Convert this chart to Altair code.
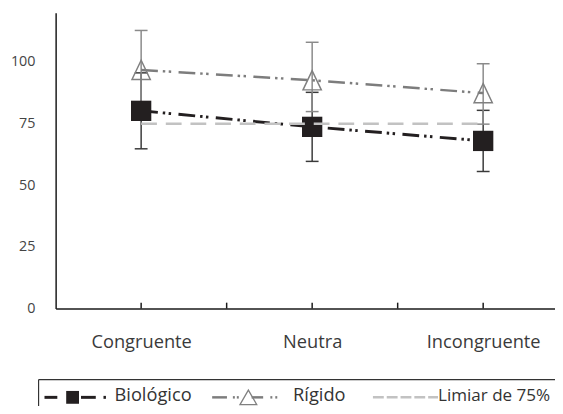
import json
import altair as alt
import pandas as pd

# ---- data ----
categories = ["Congruente", "Neutra", "Incongruente"]
series = ["Biológico", "Rígido", "Limiar de 75%"]
bio_mean = [80.2, 73.7, 68.0]
bio_low = [64.8, 59.7, 55.6]
bio_high = [95.6, 87.7, 80.4]
rig_mean = [96.8, 92.6, 87.4]
rig_low = [80.6, 79.9, 74.8]
rig_high = [112.8, 108.0, 99.3]
threshold = 75
y_ticks = [0, 25, 50, 75, 100]
x_tick_marks = [0, 0.5, 1, 1.5, 2]

bio = pd.DataFrame({"idx": list(range(len(categories))), "cat": categories,
                    "mean": bio_mean, "lo": bio_low, "hi": bio_high})
rig = pd.DataFrame({"idx": list(range(len(categories))), "cat": categories,
                    "mean": rig_mean, "lo": rig_low, "hi": rig_high})
thr = pd.DataFrame({"idx": [0, len(categories) - 1], "v": [threshold, threshold]})
ticks = pd.DataFrame({"idx": x_tick_marks, "z": [0] * len(x_tick_marks)})

FONT = "Open Sans"
label_expr = json.dumps(categories) + "[datum.value]"

xs = alt.Scale(domain=[-0.5, 2.42], nice=False, zero=False)
ys = alt.Scale(domain=[0, 120], nice=False, zero=False)
x_axis = alt.Axis(values=[0, 1, 2], labelExpr=label_expr, ticks=False, tickSize=0,
                  grid=False, title=None, domainColor="#1a1a1a", domainWidth=1.5,
                  labelFont=FONT, labelFontSize=18.5, labelColor="#3a3a3a",
                  labelPadding=24.6)
y_axis = alt.Axis(values=y_ticks, ticks=False, tickSize=0, grid=False, title=None,
                  domainColor="#1a1a1a", domainWidth=1.5, labelFont=FONT,
                  labelFontSize=14.5, labelColor="#444444", labelPadding=21)


def X():
    return alt.X("idx:Q", scale=xs, axis=x_axis)


def Y(field):
    return alt.Y(field + ":Q", scale=ys, axis=y_axis)


def err_layers(df, color):
    bar = alt.Chart(df).mark_rule(color=color, strokeWidth=1.5).encode(
        x=X(), y=Y("lo"), y2="hi")
    cap_lo = alt.Chart(df).mark_rule(color=color, strokeWidth=1.5, xOffset=-6.5,
                                     x2Offset=6.5).encode(x=X(), x2="idx:Q", y=Y("lo"))
    cap_hi = alt.Chart(df).mark_rule(color=color, strokeWidth=1.5, xOffset=-6.5,
                                     x2Offset=6.5).encode(x=X(), x2="idx:Q", y=Y("hi"))
    return [bar, cap_lo, cap_hi]


DASH = [17, 5, 2.5, 3.5, 2.5, 7.5]
BLACK = "#231f20"
GRAY = "#7d7d7d"
LIGHT = "#c2c2c2"
TRI = "M0,-1L-0.95,1L0.95,1Z"

layers = []
layers += err_layers(bio, "#3a3a3a")
layers += err_layers(rig, "#8a8a8a")
layers.append(alt.Chart(rig).mark_line(color=GRAY, strokeWidth=2.5, strokeDash=DASH)
              .encode(x=X(), y=Y("mean")))
layers.append(alt.Chart(bio).mark_line(color=BLACK, strokeWidth=3, strokeDash=DASH)
              .encode(x=X(), y=Y("mean")))
layers.append(alt.Chart(rig).mark_point(shape=TRI, filled=False, size=380, color="#808080",
                                         strokeWidth=1.5, opacity=1)
              .encode(x=X(), y=Y("mean")))
layers.append(alt.Chart(bio).mark_point(shape="square", filled=True, size=424, color=BLACK,
                                         opacity=1)
              .encode(x=X(), y=Y("mean")))
layers.append(alt.Chart(thr).mark_line(color=LIGHT, strokeWidth=2.5, strokeDash=[16, 9])
              .encode(x=X(), y=Y("v")))
layers.append(alt.Chart(ticks).mark_rule(color="#1a1a1a", strokeWidth=1.5)
              .encode(x=X(), y=Y("z"), y2=alt.value(294)))

# ---- hand-drawn legend (cropped box as in the reference) ----
one = alt.Data(values=[{}])


def seg(x1, x2, y, color, width, dash=None):
    kw = dict(color=color, strokeWidth=width)
    if dash:
        kw["strokeDash"] = dash
    return alt.Chart(one).mark_rule(**kw).encode(
        x=alt.value(x1), x2=alt.value(x2), y=alt.value(y))


def txt(x, label, size=18.5):
    return alt.Chart(one).mark_text(align="left", baseline="alphabetic", font=FONT,
                                    fontSize=size, color="#333333").encode(
        x=alt.value(x), y=alt.value(394), text=alt.value(label))


LY = 390
layers += [
    seg(-17.3, 520, 372, "#333333", 1.2),
    alt.Chart(one).mark_rule(color="#333333", strokeWidth=1.2).encode(
        x=alt.value(-17.3), y=alt.value(372), y2=alt.value(430)),
    # Biológico
    seg(-11.3, 1.7, LY, BLACK, 3),
    alt.Chart(one).mark_point(shape="square", filled=True, size=169, color=BLACK,
                              opacity=1).encode(x=alt.value(17.2), y=alt.value(LY)),
    seg(25.7, 40.7, LY, BLACK, 3),
    seg(48.5, 51, LY, BLACK, 3),
    txt(59.7, series[0]),
    # Rígido
    seg(158.7, 173.7, LY, GRAY, 2.5),
    seg(179.7, 181.7, LY, GRAY, 2.5),
    seg(183.7, 185.7, LY, GRAY, 2.5),
    seg(198.7, 210.4, LY, GRAY, 2.5),
    alt.Chart(one).mark_point(shape="triangle-up", filled=False, size=289, color="#808080",
                              strokeWidth=1.3, opacity=1).encode(
        x=alt.value(195.4), y=alt.value(LY)),
    seg(217.7, 219.7, LY, GRAY, 2.5),
    seg(222.7, 224.7, LY, GRAY, 2.5),
    txt(240.7, series[1]),
    # Limiar
    seg(321.7, 387.7, LY, LIGHT, 2.5, [11, 3]),
    txt(387.7, series[2], 17.3),
]

chart = alt.layer(*layers).properties(
    width=506.3, height=300,
    autosize=alt.AutoSizeParams(type="none"),
    padding={"left": 48.3, "top": 2, "right": 0, "bottom": 96},
).configure_view(stroke=None)

chart.save("out.html", embed_options={"renderer": "svg", "actions": False})
